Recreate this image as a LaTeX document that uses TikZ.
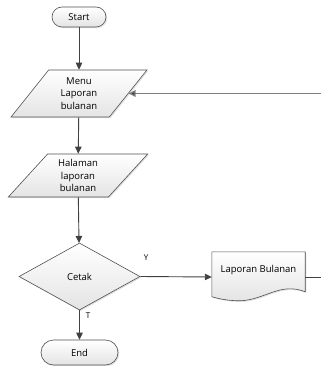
\documentclass[tikz,border=0pt]{standalone}
\usepackage{fontspec}
\setmainfont{Open Sans}
\usetikzlibrary{shapes.geometric,shapes.misc,arrows.meta,shadows,calc}

\definecolor{edgegray}{HTML}{505050}
\definecolor{linegray}{HTML}{404040}
\definecolor{backgray}{HTML}{808080}
\definecolor{fillbot}{HTML}{E4E4E4}

\tikzset{
  boxbase/.style={draw=edgegray, line width=0.6pt, top color=white, bottom color=fillbot,
    drop shadow={shadow xshift=1.2pt, shadow yshift=-1.2pt, fill=black!25, opacity=0.45},
    font=\fontsize{9.5}{12.5}\selectfont, align=center, inner sep=2pt},
  term/.style={boxbase, rounded rectangle},
  iobox/.style={boxbase, trapezium, trapezium stretches=true},
  decision/.style={boxbase, diamond, inner sep=0pt},
  conn/.style={draw=linegray, line width=0.9pt},
  arrow/.style={conn, -{Triangle[length=7pt,width=6.5pt]}},
  backarrow/.style={draw=backgray, line width=1.2pt, -{Triangle[length=7pt,width=6.5pt,fill=linegray]}},
  lbl/.style={font=\fontsize{8}{9}\selectfont, inner sep=0pt}
}

\begin{document}
\begin{tikzpicture}[x=1pt,y=-1pt]
\useasboundingbox (0,0) rectangle (321,366);

% terminals, input/output boxes and the decision
\node[term, minimum width=58, minimum height=20] (start) at (79,17) {Start};
\node[iobox, minimum width=136, minimum height=47,
      trapezium left angle=55, trapezium right angle=125] (menu) at (79,93.5) {Menu\\Laporan\\bulanan};
\node[iobox, minimum width=140, minimum height=43,
      trapezium left angle=52, trapezium right angle=128] (halaman) at (78,175.5) {Halaman\\laporan\\bulanan};
\node[decision, minimum width=121, minimum height=67] (cetak) at (79.5,276.5) {Cetak};
\node[term, minimum width=81, minimum height=25] (end) at (79.5,352.5) {End};

% document shape with wavy bottom
\node[minimum width=93, minimum height=50, inner sep=0pt] (doc) at (258.5,277) {};
\path[boxbase] (doc.north west) -- (doc.north east) -- ($(doc.north east)+(0,40)$)
  .. controls ($(doc.north east)+(-25,30)$) and ($(doc.north east)+(-40,48)$) .. ($(doc.north east)+(-65,49)$)
  .. controls ($(doc.north east)+(-80,49)$) and ($(doc.north east)+(-89,46)$) .. ($(doc.north west)+(0,45)$)
  -- cycle;
\node[font=\fontsize{9.5}{12.5}\selectfont, inner sep=0pt] (doctext) at (258.5,270) {Laporan Bulanan};

% branch labels
\node[lbl] (ylab) at (146,258) {Y};
\node[lbl] (tlab) at (88,316) {T};

% free ends at the right border
\coordinate (backR) at (321,92);
\coordinate (outR) at (321,277);

% connectors
\draw[arrow] (start) -- (menu);
\draw[arrow] (menu) -- (halaman);
\draw[arrow] (halaman) -- (cetak);
\draw[arrow] (cetak) -- (end);
\draw[arrow] (cetak.east) -- (doc.west);
\draw[conn] (doc.east) -- (outR);
\draw[backarrow] (menu.east -| backR) -- (menu.east);
\end{tikzpicture}
\end{document}
